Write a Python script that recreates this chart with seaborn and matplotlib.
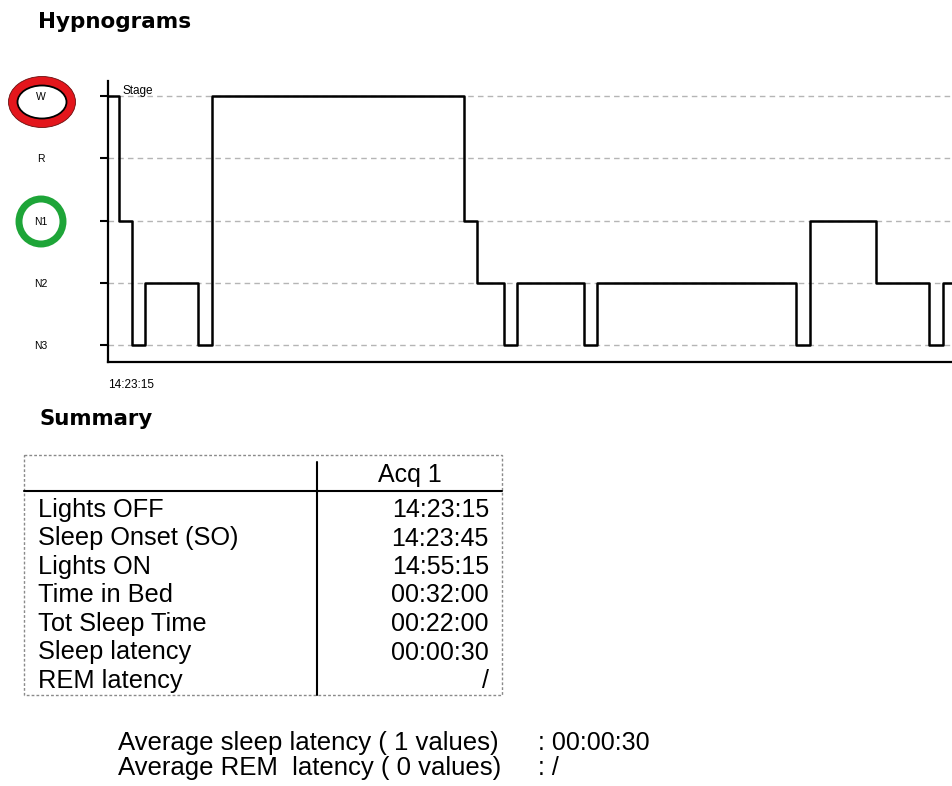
import matplotlib
matplotlib.use("Agg")
import matplotlib.pyplot as plt
import numpy as np
import pandas as pd
import seaborn as sns
from matplotlib.patches import Ellipse, Rectangle

# hypnogram: one stage per run of 30 s epochs
stages = ["W", "N1", "N3", "N2", "N3", "W", "N1", "N2", "N3",
          "N2", "N3", "N2", "N3", "N1", "N2", "N3", "N2"]
durations = [1, 1, 1, 4, 1, 19, 1, 2, 1, 5, 1, 15, 1, 5, 4, 1, 1]
stage_order = ["W", "R", "N1", "N2", "N3"]
start_label = "14:23:15"

row_labels = ["Lights OFF", "Sleep Onset (SO)", "Lights ON", "Time in Bed",
              "Tot Sleep Time", "Sleep latency", "REM latency"]
acq_values = ["14:23:15", "14:23:45", "14:55:15", "00:32:00",
              "00:22:00", "00:00:30", "/"]
avg_labels = ["Average sleep latency ( 1 values)", "Average REM  latency ( 0 values)"]
avg_values = [": 00:00:30", ": /"]

sns.set_style("white")
plt.rcParams["font.family"] = ["Liberation Sans", "DejaVu Sans"]
plt.rcParams["text.color"] = "black"
plt.rcParams["xtick.color"] = "black"
plt.rcParams["ytick.color"] = "black"

W, H = 953, 786
fig = plt.figure(figsize=(W / 100, H / 100), dpi=100)

# overlay in pixel coords for titles, circles and the summary table
ov = fig.add_axes([0, 0, 1, 1], zorder=0)
ov.set_xlim(0, W)
ov.set_ylim(H, 0)
ov.axis("off")
ov.patch.set_alpha(0)

# hypnogram axes
ax = fig.add_axes([108 / W, (H - 362) / H, (952 - 108) / W, (362 - 81) / H], zorder=1)
ax.patch.set_alpha(0)

levels = {s: len(stage_order) - 1 - i for i, s in enumerate(stage_order)}
epochs = np.concatenate([[0], np.cumsum(durations)])
lev = [levels[s] for s in stages] + [levels[stages[-1]]]
df = pd.DataFrame({"epoch": epochs, "level": lev})

sns.lineplot(data=df, x="epoch", y="level", ax=ax, drawstyle="steps-post",
             color="black", lw=1.8, estimator=None, sort=False)

x0 = 0.2
ax.set_xlim(x0, 63.7)
ax.set_ylim(-0.27, 4.24)
ax.set_yticks([levels[s] for s in stage_order])
ax.set_yticklabels(stage_order, fontsize=7.5, ha="center")
ax.set_xticks([x0])
ax.set_xticklabels([start_label], fontsize=8.5, ha="left")
ax.tick_params(axis="y", length=6, width=1.5, color="black", pad=42.5, direction="out", left=True)
ax.tick_params(axis="x", length=0, pad=12)
ax.yaxis.grid(True, linestyle=(0, (4, 3)), color="#b5b5b5", lw=1)
ax.set_xlabel("")
ax.set_ylabel("")
for side in ["top", "right"]:
    ax.spines[side].set_visible(False)
for side in ["left", "bottom"]:
    ax.spines[side].set_linewidth(1.6)
    ax.spines[side].set_color("black")
ax.text(123, 91, "Stage", fontsize=8.5, va="center", transform=ov.transData)

# highlight rings around W and N1
ov.add_patch(Ellipse((42, 102), 58, 42, fill=False, edgecolor="#e3161c", lw=6.5))
ov.add_patch(Ellipse((42, 102), 49, 33, fill=False, edgecolor="black", lw=1.3))
ov.add_patch(Ellipse((42, 102), 67, 51, fill=False, edgecolor="#6a1212", lw=0.6))
ov.add_patch(Ellipse((41, 221.5), 44, 45, fill=False, edgecolor="#1ea538", lw=5.0))

# titles
ov.text(38, 28, "Hypnograms", fontsize=15.5, fontweight="bold", family="DejaVu Sans", va="baseline")
ov.text(40, 425, "Summary", fontsize=15.3, fontweight="bold", family="DejaVu Sans", va="baseline")

# summary table
ov.add_patch(Rectangle((24, 455), 478, 240, fill=False, edgecolor="#8a8a8a",
                       lw=1.0, linestyle=(0, (2, 1.5))))
ov.plot([24, 502], [491, 491], color="black", lw=1.5)
ov.plot([317, 317], [462, 695], color="black", lw=1.5)
ov.text(410, 482, "Acq 1", fontsize=18, ha="center", va="baseline")
for i, (lab, val) in enumerate(zip(row_labels, acq_values)):
    y = 517 + i * 28.5
    ov.text(38, y, lab, fontsize=18.3, va="baseline")
    ov.text(489, y, val, fontsize=18, ha="right", va="baseline")

# averages
for i, (lab, val) in enumerate(zip(avg_labels, avg_values)):
    y = 750 + i * 25
    ov.text(118, y, lab, fontsize=18.5, va="baseline")
    ov.text(538, y, val, fontsize=18, va="baseline")

fig.savefig("out.png", dpi=100)
